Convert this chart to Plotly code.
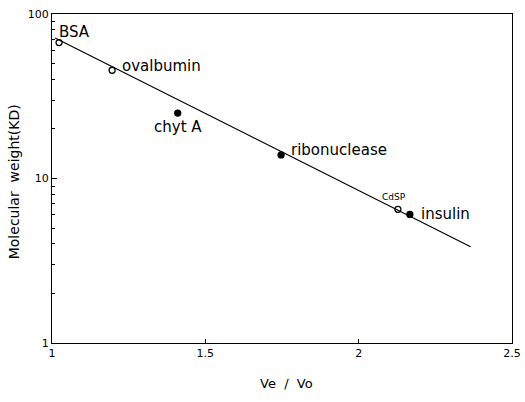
import math
import plotly.graph_objects as go

proteins = ["BSA", "ovalbumin", "chyt A", "ribonuclease", "CdSP", "insulin"]
ve_vo = [1.023, 1.196, 1.41, 1.747, 2.128, 2.167]
mw_kd = [67.0, 45.5, 25.0, 13.9, 6.5, 6.05]
symbols = ["circle-open", "circle-open", "circle", "circle", "circle-open", "circle"]

fit_x = [1.01, 2.365]
fit_y = [71.5, 3.85]

x_ticks = [1, 1.5, 2, 2.5]
x_tick_text = ["1", "1.5", "2", "2.5"]
y_ticks = [1, 10, 100]
y_tick_text = ["1", "10", "100"]

label_shift = {
    "BSA": dict(xshift=-2, yshift=11, xanchor="left", size=15),
    "ovalbumin": dict(xshift=8, yshift=4, xanchor="left", size=15),
    "chyt A": dict(xshift=0, yshift=-14, xanchor="center", size=15),
    "ribonuclease": dict(xshift=8, yshift=5, xanchor="left", size=15),
    "CdSP": dict(xshift=-4, yshift=12, xanchor="center", size=9),
    "insulin": dict(xshift=9, yshift=0, xanchor="left", size=15),
}

FONT = "DejaVu Sans, Verdana, sans-serif"

fig = go.Figure()
fig.add_trace(go.Scatter(x=fit_x, y=fit_y, mode="lines",
                         line=dict(color="black", width=1.2), showlegend=False))
fig.add_trace(go.Scatter(x=ve_vo, y=mw_kd, mode="markers",
                         marker=dict(symbol=symbols, size=6, color="black",
                                     line=dict(color="black", width=1.3)),
                         showlegend=False))

for name, xv, yv in zip(proteins, ve_vo, mw_kd):
    s = label_shift[name]
    fig.add_annotation(x=xv, y=math.log10(yv), text=name, showarrow=False,
                       xanchor=s["xanchor"], yanchor="middle",
                       xshift=s["xshift"], yshift=s["yshift"],
                       font=dict(size=s["size"], color="black", family=FONT))

# axis titles
fig.add_annotation(xref="paper", yref="paper", x=0.51, y=-0.095, text="Ve&nbsp;&nbsp;/&nbsp;&nbsp;Vo",
                   showarrow=False, xanchor="center", yanchor="top",
                   font=dict(size=13, color="black", family=FONT))
fig.add_annotation(xref="paper", yref="paper", x=-0.062, y=0.49,
                   text="Molecular&nbsp;&nbsp;weight(KD)",
                   showarrow=False, xanchor="right", yanchor="middle", textangle=-90,
                   font=dict(size=14, color="black", family=FONT))

fig.update_layout(
    width=525, height=402,
    margin=dict(l=52, r=13, t=14, b=59),
    paper_bgcolor="white", plot_bgcolor="white",
    font=dict(family=FONT, color="black", size=11),
)
fig.update_xaxes(range=[1, 2.5], tickvals=x_ticks, ticktext=x_tick_text,
                 showgrid=False, zeroline=False, showline=True, linecolor="black",
                 linewidth=1.2, mirror=True, ticks="inside", ticklen=4,
                 tickcolor="black", automargin=False)
fig.update_yaxes(type="log", range=[0, 2], tickvals=y_ticks, ticktext=y_tick_text,
                 showgrid=False, zeroline=False, showline=True, linecolor="black",
                 linewidth=1.2, mirror=True, ticks="inside", ticklen=5,
                 tickcolor="black", automargin=False,
                 minor=dict(ticks="inside", ticklen=3, tickcolor="black",
                            tickvals=[2, 3, 4, 5, 6, 7, 8, 9, 20, 30, 40, 50, 60, 70, 80, 90]))

fig.write_html("out.html", config={"displayModeBar": False},
               post_script="document.body.style.margin='0';document.body.style.padding='0';"
                           "document.body.style.overflow='hidden';")
